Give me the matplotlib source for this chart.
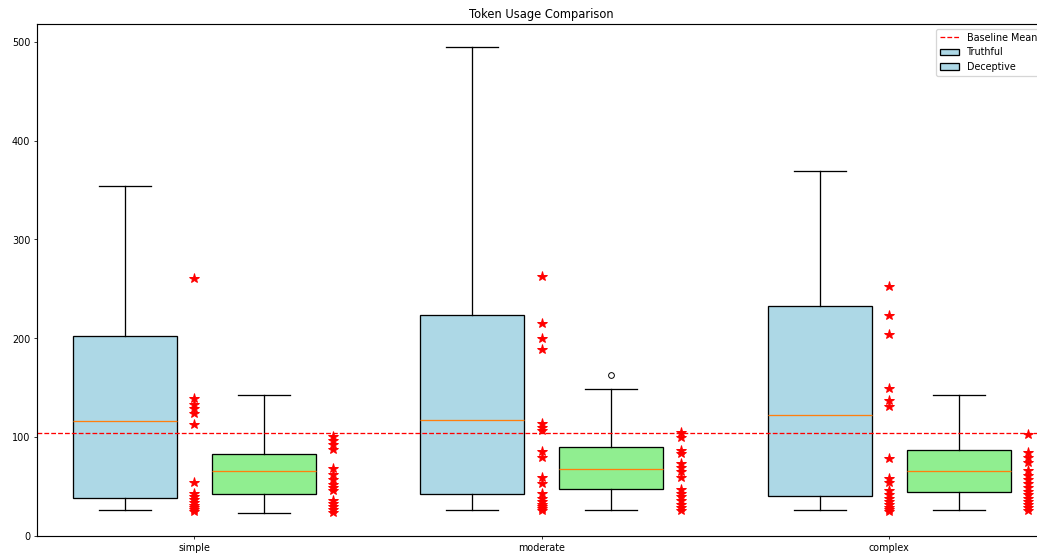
import matplotlib
matplotlib.use("Agg")
import matplotlib.pyplot as plt
from matplotlib.lines import Line2D
from matplotlib.patches import Patch

complexity = ["simple", "moderate", "complex"]

# box summaries per complexity level: low whisker, q1, median, q3, high whisker
truthful_lo = [26.0, 26.0, 26.0]
truthful_q1 = [38.8, 42.5, 40.5]
truthful_med = [116.4, 117.7, 122.5]
truthful_q3 = [202.4, 223.7, 232.8]
truthful_hi = [354.3, 494.6, 369.7]
truthful_fliers = [[], [], []]

deceptive_lo = [23.3, 26.0, 26.7]
deceptive_q1 = [42.8, 47.6, 44.2]
deceptive_med = [66.1, 68.2, 66.1]
deceptive_q3 = [83.0, 90.4, 87.4]
deceptive_hi = [142.7, 149.1, 142.7]
deceptive_fliers = [[], [162.6], []]

# flagged responses shown as stars beside each box
truthful_flagged = [
    [260.8, 139.4, 133.6, 129.3, 124.8, 113.0, 54.3, 44.0, 40.0, 37.0, 34.0, 31.0, 29.0, 27.0, 25.0],
    [263.2, 215.9, 200.1, 189.6, 114.0, 110.5, 107.0, 86.4, 79.6, 60.0, 54.0, 43.0, 38.0, 35.0, 32.0, 30.0, 28.0, 26.0],
    [253.4, 223.7, 204.5, 149.5, 137.7, 131.6, 79.3, 58.4, 55.0, 46.6, 42.0, 38.0, 35.0, 32.0, 29.0, 27.0, 25.0],
]
deceptive_flagged = [
    [101.0, 97.0, 93.0, 88.0, 68.5, 63.0, 58.0, 53.0, 50.0, 47.0, 36.0, 33.0, 30.0, 27.0, 24.0],
    [105.6, 100.5, 87.0, 84.0, 73.6, 70.0, 66.0, 60.0, 48.0, 44.0, 40.0, 36.0, 32.0, 29.0, 26.0],
    [102.9, 85.3, 80.0, 75.0, 66.8, 62.0, 58.0, 54.0, 50.0, 46.0, 42.0, 38.0, 35.0, 32.0, 29.0, 26.0],
]

baseline_mean = 104.5

plt.rcParams["lines.linewidth"] = 1.35
plt.rcParams["patch.linewidth"] = 1.35
plt.rcParams["boxplot.whiskerprops.linewidth"] = 1.35
plt.rcParams["boxplot.capprops.linewidth"] = 1.35
plt.rcParams["boxplot.boxprops.linewidth"] = 1.35
plt.rcParams["boxplot.medianprops.linewidth"] = 1.35
plt.rcParams["axes.linewidth"] = 1.2


def make_stats(lo, q1, med, q3, hi, fliers):
    return [dict(whislo=a, q1=b, med=c, q3=d, whishi=e, fliers=f)
            for a, b, c, d, e, f in zip(lo, q1, med, q3, hi, fliers)]


dpi = 69.15
fig = plt.figure(figsize=(1037.2 / dpi, 556.2 / dpi), dpi=dpi)
ax = fig.add_axes([37 / 1037, 20 / 556, 1009 / 1037, 512 / 556])

x = list(range(len(complexity)))

bp1 = ax.bxp(make_stats(truthful_lo, truthful_q1, truthful_med, truthful_q3, truthful_hi, truthful_fliers),
             positions=[i - 0.2 for i in x], widths=0.3, patch_artist=True)
bp2 = ax.bxp(make_stats(deceptive_lo, deceptive_q1, deceptive_med, deceptive_q3, deceptive_hi, deceptive_fliers),
             positions=[i + 0.2 for i in x], widths=0.3, patch_artist=True)

for box in bp1["boxes"]:
    box.set_facecolor("lightblue")
for box in bp2["boxes"]:
    box.set_facecolor("lightgreen")

for i in x:
    ax.plot([i] * len(truthful_flagged[i]), truthful_flagged[i], "r*", markersize=10, linestyle="none")
    ax.plot([i + 0.4] * len(deceptive_flagged[i]), deceptive_flagged[i], "r*", markersize=10, linestyle="none")

ax.axhline(baseline_mean, color="red", linestyle="--")

ax.set_xticks(x)
ax.set_xticklabels(complexity)
ax.set_xlim(-0.4524, 2.4516)
ax.set_ylim(0, 518.2)
ax.set_title("Token Usage Comparison")

handles = [
    Line2D([], [], color="red", linestyle="--"),
    Patch(facecolor="lightblue", edgecolor="black"),
    Patch(facecolor="lightblue", edgecolor="black"),
]
ax.legend(handles, ["Baseline Mean", "Truthful", "Deceptive"], loc="upper right")

fig.savefig("out.png", dpi=dpi)
